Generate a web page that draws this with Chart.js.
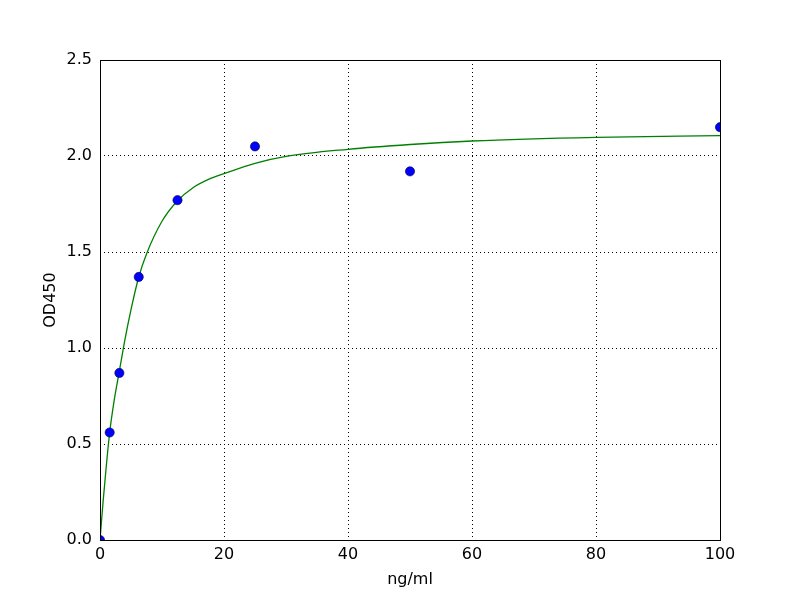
<!DOCTYPE html>
<html>
<head>
<meta charset="utf-8">
<script src="https://cdn.jsdelivr.net/npm/chart.js@4.4.1/dist/chart.umd.min.js"></script>
<style>
  html, body { margin: 0; padding: 0; background: #fff; }
  #wrap { width: 800px; height: 600px; }
</style>
</head>
<body>
<div id="wrap"><canvas id="odChart" width="800" height="600"></canvas></div>
<script>
// standards (ng/ml) and their measured OD450
const concentrations = [0, 1.5625, 3.125, 6.25, 12.5, 25, 50, 100];
const odValues = [0.0, 0.56, 0.87, 1.37, 1.77, 2.05, 1.92, 2.15];

// fitted curve, points
const curveX = [0, 0.5, 1, 1.56, 2.3, 3.125, 4, 5, 6.25, 7.5, 10, 12.5, 15, 17.5, 20, 25, 30, 40, 50, 60, 80, 100];
const curveY = [0, 0.2, 0.38, 0.56, 0.73, 0.88, 1.04, 1.2, 1.37, 1.49, 1.66, 1.767, 1.835, 1.878, 1.908, 1.962, 1.998, 2.035, 2.06, 2.078, 2.097, 2.106];

const xTicks = [0, 20, 40, 60, 80, 100];
const yTicks = [0, 0.5, 1.0, 1.5, 2.0, 2.5];

const FONT = "'DejaVu Sans', sans-serif";

// solid frame on all four sides, like the matplotlib axes box
const frame = {
    id: 'frame',
    afterDraw(chart) {
        const { ctx, chartArea: a } = chart;
        ctx.save();
        ctx.strokeStyle = '#000';
        ctx.lineWidth = 1;
        ctx.strokeRect(Math.round(a.left) + 0.5, Math.round(a.top) + 0.5, Math.round(a.right - a.left), Math.round(a.bottom - a.top));
        ctx.restore();
    }
};

const ctx = document.getElementById('odChart').getContext('2d');
new Chart(ctx, {
    type: 'scatter',
    data: {
        datasets: [
            {
                label: 'standards',
                data: concentrations.map((c, i) => ({ x: c, y: odValues[i] })),
                backgroundColor: '#0000ff',
                borderColor: '#000040',
                borderWidth: 0.6,
                pointRadius: 4.6,
                clip: 0,
                order: 1
            },
            {
                label: 'fit',
                data: curveX.map((c, i) => ({ x: c, y: curveY[i] })),
                showLine: true,
                borderColor: '#008000',
                borderWidth: 1.3,
                pointRadius: 0,
                cubicInterpolationMode: 'monotone',
                clip: 0,
                order: 2
            }
        ]
    },
    options: {
        responsive: false,
        animation: false,
        layout: { padding: { left: 0, top: 60, right: 80, bottom: 0 } },
        plugins: { legend: { display: false }, tooltip: { enabled: false } },
        scales: {
            x: {
                type: 'linear', min: 0, max: 100,
                afterBuildTicks: s => { s.ticks = xTicks.map(v => ({ value: v })); },
                afterFit: s => { s.height = 60; },
                grid: { color: '#000', lineWidth: 1, drawTicks: false },
                border: { display: false, dash: [1, 3] },
                ticks: { color: '#000', padding: 5, font: { family: FONT, size: 16 }, maxRotation: 0 },
                title: { display: true, text: 'ng/ml', color: '#000', padding: 11, font: { family: FONT, size: 16 } }
            },
            y: {
                type: 'linear', min: 0, max: 2.5,
                afterBuildTicks: s => { s.ticks = yTicks.map(v => ({ value: v })); },
                afterFit: s => { s.width = 100; },
                grid: { color: '#000', lineWidth: 1, drawTicks: false },
                border: { display: false, dash: [1, 3] },
                ticks: { color: '#000', padding: 8, font: { family: FONT, size: 16 }, callback: v => v.toFixed(1) },
                title: { display: true, text: 'OD450', color: '#000', padding: 41, font: { family: FONT, size: 16 } }
            }
        }
    },
    plugins: [frame]
});
</script>
</body>
</html>
